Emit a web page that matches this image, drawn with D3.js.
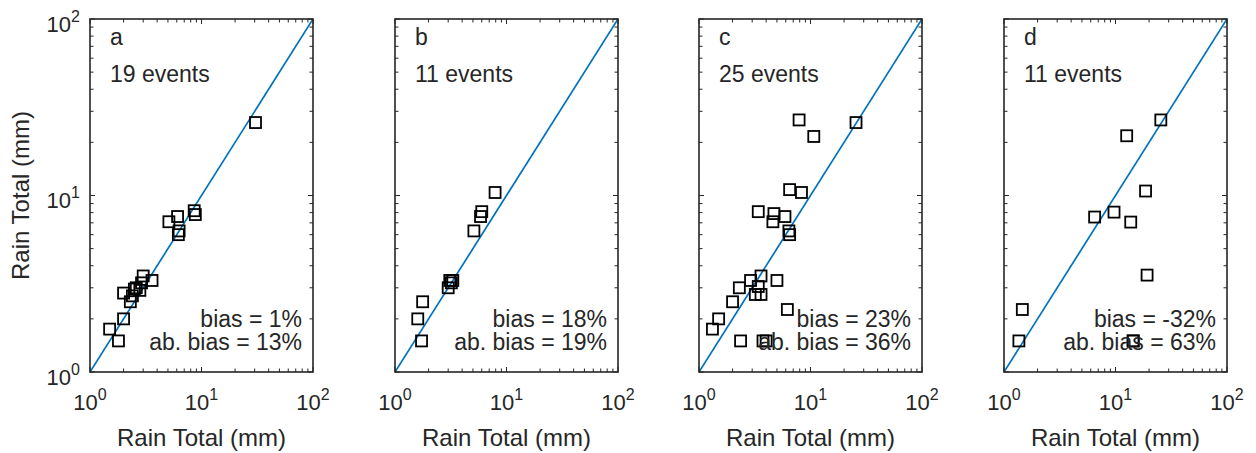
<!DOCTYPE html>
<html>
<head>
<meta charset="utf-8">
<script src="https://cdn.jsdelivr.net/npm/d3@7"></script>
<style>
  body { margin: 0; background: #fff; }
  svg text { font-family: "Liberation Sans", Arial, sans-serif; fill: #262626; }
</style>
</head>
<body>
<div id="chart"></div>
<script>
// panel labels and annotations
var panelLetters = ["a", "b", "c", "d"];
var eventCounts = [19, 11, 25, 11];
var biasValues = ["1%", "18%", "23%", "-32%"];
var absBiasValues = ["13%", "19%", "36%", "63%"];
var tickExponents = [0, 1, 2];

// rain totals (mm), x = reference, y = estimate
var aX = [30.5, 8.6, 8.8, 6.1, 5.1, 6.3, 6.2, 3.6, 3.0, 2.9, 2.6, 2.8, 2.4, 2.3, 2.0, 2.0, 1.5, 1.8, 2.5];
var aY = [25.9, 8.2, 7.8, 7.6, 7.1, 6.3, 6.0, 3.3, 3.5, 3.2, 3.0, 2.9, 2.7, 2.5, 2.8, 2.0, 1.75, 1.5, 2.95];
var bX = [7.9, 6.0, 5.85, 5.1, 3.3, 3.1, 3.0, 1.77, 1.6, 1.73, 3.2];
var bY = [10.4, 8.1, 7.6, 6.3, 3.3, 3.3, 3.0, 2.5, 2.0, 1.5, 3.2];
var cX = [25.6, 7.9, 10.7, 6.5, 8.3, 3.4, 4.7, 4.6, 5.9, 6.4, 6.5, 3.6, 2.9, 3.4, 3.2, 3.6, 5.0, 2.3, 2.0, 1.5, 1.32, 6.2, 2.36, 4.0, 3.75];
var cY = [25.9, 26.8, 21.6, 10.8, 10.4, 8.1, 7.9, 7.1, 7.6, 6.3, 6.0, 3.5, 3.3, 3.05, 2.75, 2.75, 3.3, 3.0, 2.5, 2.0, 1.75, 2.26, 1.5, 1.5, 1.5];
var dX = [25.5, 12.6, 18.6, 9.7, 6.5, 13.7, 19.2, 1.46, 1.36, 14.4, 14.4];
var dY = [26.8, 21.8, 10.6, 8.05, 7.55, 7.07, 3.54, 2.26, 1.5, 1.5, 1.5];

var panelX = [aX, bX, cX, dX];
var panelY = [aY, bY, cY, dY];

var width = 1256, height = 453;
var plotW = 223, plotTop = 19, plotBottom = 372;
var panelLeft = [90, 395, 699, 1004];
var ink = "#262626";

var svg = d3.select("#chart").append("svg")
  .attr("width", width).attr("height", height);

var x = d3.scaleLog().domain([1, 100]).range([0, plotW]);
var y = d3.scaleLog().domain([1, 100]).range([plotBottom - plotTop, 0]);

// all log ticks (major + minor)
var minorVals = [];
for (var e = 0; e < 2; e++) {
  for (var m = 2; m <= 9; m++) minorVals.push(m * Math.pow(10, e));
}
var majorVals = tickExponents.map(function (p) { return Math.pow(10, p); });

panelLetters.forEach(function (letter, i) {
  var g = svg.append("g")
    .attr("transform", "translate(" + panelLeft[i] + "," + plotTop + ")");
  var h = plotBottom - plotTop;

  g.append("clipPath").attr("id", "clip" + i)
    .append("rect").attr("width", plotW).attr("height", h);

  // 1:1 line
  g.append("line")
    .attr("clip-path", "url(#clip" + i + ")")
    .attr("x1", x(1)).attr("y1", y(1))
    .attr("x2", x(100)).attr("y2", y(100))
    .attr("stroke", "#0072BD").attr("stroke-width", 1.7);

  // points
  g.append("g").selectAll("rect")
    .data(d3.zip(panelX[i], panelY[i]))
    .enter().append("rect")
    .attr("x", function (d) { return x(d[0]) - 5.5; })
    .attr("y", function (d) { return y(d[1]) - 5.5; })
    .attr("width", 11).attr("height", 11)
    .attr("fill", "none").attr("stroke", "#000").attr("stroke-width", 1.8);

  // ticks on four sides (inside)
  var tk = g.append("g").attr("stroke", ink).attr("stroke-width", 1);
  minorVals.concat(majorVals).forEach(function (v) {
    var len = majorVals.indexOf(v) >= 0 ? 5 : 3.5;
    tk.append("line").attr("x1", x(v)).attr("x2", x(v)).attr("y1", h).attr("y2", h - len);
    tk.append("line").attr("x1", x(v)).attr("x2", x(v)).attr("y1", 0).attr("y2", len);
    tk.append("line").attr("y1", y(v)).attr("y2", y(v)).attr("x1", 0).attr("x2", len);
    tk.append("line").attr("y1", y(v)).attr("y2", y(v)).attr("x1", plotW).attr("x2", plotW - len);
  });

  // frame
  g.append("rect").attr("width", plotW).attr("height", h)
    .attr("fill", "none").attr("stroke", ink).attr("stroke-width", 1.6);

  // x tick labels
  tickExponents.forEach(function (p) {
    var t = g.append("text")
      .attr("x", x(Math.pow(10, p))).attr("y", h + 38)
      .attr("text-anchor", "middle").style("font-size", "22px");
    t.append("tspan").text("10");
    t.append("tspan").attr("dy", -10).style("font-size", "16px").text(p);
  });

  // y tick labels, first panel only
  if (i === 0) {
    tickExponents.forEach(function (p) {
      var t = g.append("text")
        .attr("x", -10).attr("y", y(Math.pow(10, p)) + 12.5)
        .attr("text-anchor", "end").style("font-size", "22px");
      t.append("tspan").text("10");
      t.append("tspan").attr("dy", -10).style("font-size", "16px").text(p);
    });
    g.append("text")
      .attr("transform", "translate(" + (-61) + "," + (h / 2) + ") rotate(-90)")
      .attr("text-anchor", "middle").style("font-size", "24px")
      .text("Rain Total (mm)");
  }

  g.append("text")
    .attr("x", plotW / 2).attr("y", 427)
    .attr("text-anchor", "middle").style("font-size", "24px")
    .text("Rain Total (mm)");

  // annotations
  g.append("text").attr("x", 20).attr("y", 45 - plotTop)
    .style("font-size", "23px").text(letter);
  g.append("text").attr("x", 20).attr("y", 82 - plotTop)
    .style("font-size", "23px").text(eventCounts[i] + " events");
  g.append("text").attr("x", plotW - 11).attr("y", 327 - plotTop)
    .attr("text-anchor", "end").style("font-size", "23px")
    .text("bias = " + biasValues[i]);
  g.append("text").attr("x", plotW - 11).attr("y", 350 - plotTop)
    .attr("text-anchor", "end").style("font-size", "23px")
    .text("ab. bias = " + absBiasValues[i]);
});
</script>
</body>
</html>
